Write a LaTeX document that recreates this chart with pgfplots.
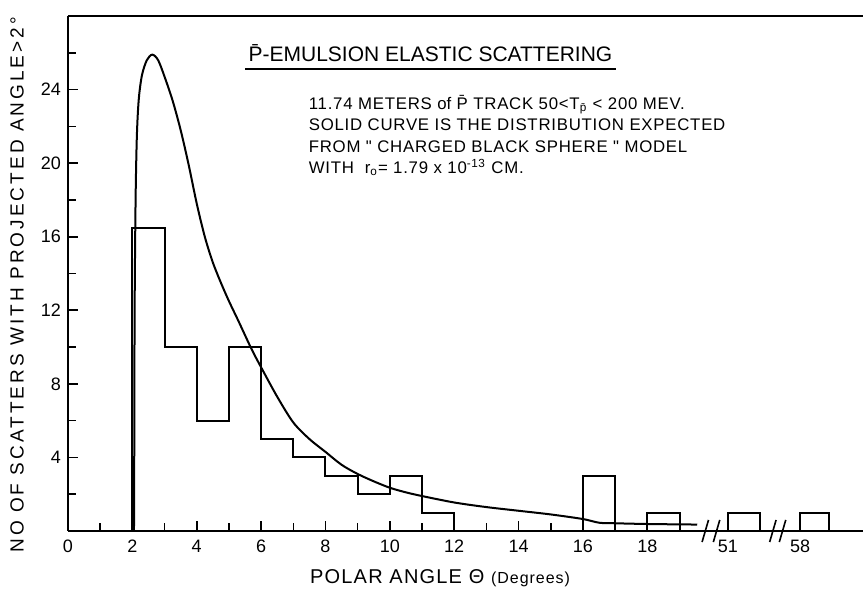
\documentclass[border=0pt]{standalone}
\usepackage{fontspec}
\setmainfont{Liberation Sans}
\newfontfamily\spaced[LetterSpace=6]{Liberation Sans}
\newfontfamily\spacedb[LetterSpace=4.5]{Liberation Sans}
\newfontfamily\spacedy[LetterSpace=16]{Liberation Sans}
\usepackage{pgfplots}
\pgfplotsset{compat=1.18}
\begin{document}
\begin{tikzpicture}
\begin{axis}[
  scale only axis,
  width=397.5pt, height=257.5pt,
  xmin=0, xmax=24.7, ymin=0, ymax=28,
  axis x line=box, axis y line=left,
  axis line style={-, line width=1pt},
  xtick pos=bottom, ytick pos=left,
  xtick={0,2,4,6,8,10,12,14,16,18,20.5,22.75},
  xticklabels={0,2,4,6,8,10,12,14,16,18,51,58},
  minor xtick={1,3,...,19},
  ytick={4,8,...,24},
  minor ytick={2,6,...,26},
  tick align=inside,
  major tick length=5pt, minor tick length=4pt,
  every tick/.style={black, line width=0.8pt},
  /pgf/number format/assume math mode=true,
  ticklabel style={font=\fontsize{9}{9}\selectfont},
  xticklabel style={yshift=-1pt},
  clip=false,
  xlabel={\spaced\fontsize{10}{10}\selectfont POLAR ANGLE Θ {\fontsize{8}{8}\selectfont(Degrees)}},
  xlabel style={at={(axis description cs:0.468,0)}, anchor=center, yshift=-23.5pt},
  ylabel={\spacedy\fontsize{9.5}{9.5}\selectfont NO OF SCATTERS WITH PROJECTED ANGLE>2°},
  ylabel style={at={(axis description cs:0,0.478)}, anchor=center, yshift=25.5pt},
]
% histogram 2-12 deg
\addplot[const plot, line width=1pt] coordinates {
 (2,0) (2,16.5) (3,10) (4,6) (5,10) (6,5) (7,4) (8,3) (9,2) (10,3) (11,1) (12,0)
};
% isolated bins
\addplot[line width=1pt] coordinates {(16,0) (16,3) (17,3) (17,0)};
\addplot[line width=1pt] coordinates {(18,0) (18,1) (19,1) (19,0)};
\addplot[line width=1pt] coordinates {(20.5,0) (20.5,1) (21.5,1) (21.5,0)};
\addplot[line width=1pt] coordinates {(22.75,0) (22.75,1) (23.65,1) (23.65,0)};
% expected distribution
\addplot[smooth, line width=1pt] coordinates {
 (2.05,0) (2.06,5) (2.07,12) (2.1,18) (2.14,21.5) (2.2,23.5) (2.3,24.8)
 (2.45,25.6) (2.62,25.9) (2.8,25.6) (3.0,24.7) (3.25,23.4) (3.5,21.8)
 (3.75,19.9) (4.0,17.8) (4.25,16.0) (4.5,14.6) (4.75,13.5) (5.0,12.5)
 (5.3,11.4) (5.7,9.9)
 (6.0,8.9) (6.5,7.3) (7.0,5.9) (7.5,5.0) (8.0,4.3) (8.5,3.6) (9.0,3.1)
 (9.5,2.7) (10.0,2.35) (10.5,2.1) (11.0,1.9) (12.0,1.55) (13.0,1.3)
 (14.0,1.1) (15.0,0.9) (16.0,0.65) (16.5,0.45) (17.0,0.42) (18.0,0.38) (19.55,0.35)
};
% axis break marks
\addplot[line width=0.8pt] coordinates {(19.7,-0.6) (19.9,0.6)};
\addplot[line width=0.8pt] coordinates {(20.05,-0.6) (20.25,0.6)};
\addplot[line width=0.8pt] coordinates {(21.8,-0.6) (22.0,0.6)};
\addplot[line width=0.8pt] coordinates {(22.1,-0.6) (22.3,0.6)};
% annotations
\node[anchor=west, inner sep=0pt, font=\fontsize{10.5}{10.5}\selectfont] (ttl) at (axis cs:5.6,26.0) {\={P}-EMULSION ELASTIC SCATTERING};
\draw[line width=0.8pt] ([shift={(-1.5pt,-3.5pt)}]ttl.south west) -- ([shift={(1.5pt,-3.5pt)}]ttl.south east);
\node[anchor=west, inner sep=0pt, align=left, font=\spacedb\fontsize{8.4}{10.7}\selectfont] at (axis cs:7.47,21.5) {%
11.74 METERS {\normalfont of} \={P} TRACK 50<T\textsubscript{\={p}} < 200 MEV.\\
SOLID CURVE IS THE DISTRIBUTION EXPECTED\\
FROM " CHARGED BLACK SPHERE " MODEL\\
WITH \ r\textsubscript{o}= 1.79 x 10\textsuperscript{-13} CM.};
\end{axis}
\pgfresetboundingbox
\path[use as bounding box] ([shift={(-34pt,-31.5pt)}]current axis.south west) rectangle ([shift={(0pt,8pt)}]current axis.north east);
\end{tikzpicture}
\end{document}
